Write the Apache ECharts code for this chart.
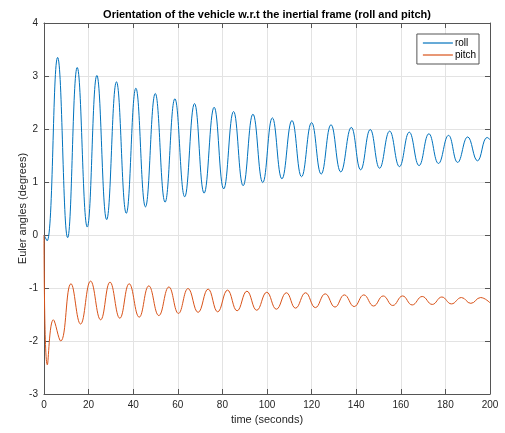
<!DOCTYPE html>
<html>
<head>
<meta charset="utf-8">
<script src="https://cdn.jsdelivr.net/npm/echarts@6/dist/echarts.min.js"></script>
<style>
html,body{margin:0;padding:0;background:#fff;}
#c{width:505px;height:433px;}
</style>
</head>
<body>
<div id="c"></div>
<script>
// Roll: extrema (time in s, angle in degrees)
var rollT = [0, 1.4, 6.1, 10.6, 14.9, 19.4, 23.7, 28.1, 32.5, 36.9, 41.2, 45.5, 49.9, 54.3, 58.7, 63.1, 67.5, 71.8, 76.3, 80.6, 85.0, 89.3, 93.7, 98.1, 102.4, 106.7, 111.2, 115.5, 120.0, 124.3, 128.7, 133.1, 137.8, 142.0, 146.3, 150.5, 155.0, 159.4, 163.8, 168.2, 172.6, 176.9, 181.4, 185.5, 190.0, 194.4, 198.7, 200];
var rollV = [0, -0.11, 3.35, -0.05, 3.16, 0.15, 3.01, 0.29, 2.89, 0.41, 2.77, 0.53, 2.67, 0.62, 2.57, 0.72, 2.48, 0.79, 2.41, 0.87, 2.33, 0.93, 2.28, 0.99, 2.21, 1.06, 2.16, 1.10, 2.12, 1.15, 2.08, 1.19, 2.03, 1.23, 1.99, 1.26, 1.96, 1.29, 1.94, 1.31, 1.91, 1.35, 1.88, 1.37, 1.85, 1.40, 1.84, 1.80];
// Pitch: extrema
var pitchT = [0, 1.5, 4.2, 7.5, 12.1, 16.4, 20.9, 25.4, 29.6, 34.0, 38.2, 42.7, 47.0, 51.5, 56.0, 60.3, 64.6, 69.1, 73.6, 77.9, 82.3, 86.6, 91.0, 95.4, 99.9, 104.2, 108.7, 112.8, 117.3, 121.7, 126.1, 130.5, 134.7, 139.1, 143.4, 147.8, 152.1, 156.4, 160.8, 165.1, 169.6, 174.1, 178.4, 182.7, 187.2, 191.4, 195.8, 200];
var pitchV = [0, -2.45, -1.6, -2.0, -0.92, -1.68, -0.87, -1.6, -0.89, -1.57, -0.92, -1.55, -0.96, -1.52, -0.98, -1.48, -1.01, -1.46, -1.02, -1.45, -1.04, -1.43, -1.06, -1.42, -1.08, -1.40, -1.09, -1.38, -1.09, -1.37, -1.11, -1.36, -1.13, -1.35, -1.13, -1.34, -1.15, -1.33, -1.15, -1.32, -1.16, -1.31, -1.17, -1.30, -1.18, -1.29, -1.18, -1.28];
var seriesNames = ['roll', 'pitch'];
var titleText = 'Orientation of the vehicle w.r.t the inertial frame (roll and pitch)';
var xName = 'time (seconds)';
var yName = 'Euler angles (degrees)';

function pairs(t, v) { return t.map(function (x, i) { return [x, v[i]]; }); }

var axisCol = '#262626';
var frameCol = '#555555';
var gridCol = '#e3e3e3';
var fontFam = '"Liberation Sans", Arial, Helvetica, sans-serif';

var chart = echarts.init(document.getElementById('c'), null, {renderer: 'canvas'});
chart.setOption({
  backgroundColor: '#ffffff',
  animation: false,
  title: {
    text: titleText,
    left: 267, top: 9, padding: 0, textAlign: 'center',
    textStyle: {fontSize: 11, fontWeight: 'bold', color: '#000', fontFamily: fontFam}
  },
  grid: {left: 44, right: 15, top: 23, bottom: 39, containLabel: false},
  legend: {
    data: seriesNames.map(function (n) { return {name: n, icon: 'rect'}; }),
    orient: 'vertical',
    right: 26, top: 34,
    padding: [3, 3, 3, 6],
    itemGap: 0,
    itemWidth: 30, itemHeight: 1.2,
    backgroundColor: '#fff',
    borderColor: frameCol, borderWidth: 1, borderRadius: 0,
    textStyle: {fontSize: 10, color: '#000', fontFamily: fontFam, lineHeight: 12, padding: [0, 0, 0, -3]}
  },
  xAxis: [{
    type: 'value', min: 0, max: 200, interval: 20,
    name: xName, nameLocation: 'middle', nameGap: 20, nameMoveOverlap: false,
    nameTextStyle: {fontSize: 11, color: axisCol, fontFamily: fontFam},
    axisLine: {show: true, onZero: false, lineStyle: {color: frameCol, width: 1}},
    axisTick: {show: true, inside: true, length: 5, lineStyle: {color: frameCol}},
    axisLabel: {fontSize: 10, color: axisCol, margin: 6, fontFamily: fontFam},
    splitLine: {show: true, lineStyle: {color: gridCol, width: 1}}
  }, {
    type: 'value', min: 0, max: 200, interval: 20, position: 'top',
    axisLine: {show: true, onZero: false, lineStyle: {color: frameCol, width: 1}},
    axisTick: {show: true, inside: true, length: 5, lineStyle: {color: frameCol}},
    axisLabel: {show: false}, splitLine: {show: false}
  }],
  yAxis: [{
    type: 'value', min: -3, max: 4, interval: 1,
    name: yName, nameLocation: 'middle', nameGap: 16, nameRotate: 90, nameMoveOverlap: false,
    nameTextStyle: {fontSize: 11, color: axisCol, fontFamily: fontFam},
    axisLine: {show: true, onZero: false, lineStyle: {color: frameCol, width: 1}},
    axisTick: {show: true, inside: true, length: 5, lineStyle: {color: frameCol}},
    axisLabel: {fontSize: 10, color: axisCol, margin: 6, fontFamily: fontFam},
    splitLine: {show: true, lineStyle: {color: gridCol, width: 1}}
  }, {
    type: 'value', min: -3, max: 4, interval: 1, position: 'right',
    axisLine: {show: true, onZero: false, lineStyle: {color: frameCol, width: 1}},
    axisTick: {show: true, inside: true, length: 5, lineStyle: {color: frameCol}},
    axisLabel: {show: false}, splitLine: {show: false}
  }],
  series: [{
    name: seriesNames[0], type: 'line', data: pairs(rollT, rollV),
    smooth: 0.45, showSymbol: false, symbol: 'none',
    lineStyle: {color: '#0072BD', width: 1}, itemStyle: {color: '#0072BD'}
  }, {
    name: seriesNames[1], type: 'line', data: pairs(pitchT, pitchV),
    smooth: 0.45, showSymbol: false, symbol: 'none',
    lineStyle: {color: '#D95319', width: 1}, itemStyle: {color: '#D95319'}
  }]
});
</script>
</body>
</html>
